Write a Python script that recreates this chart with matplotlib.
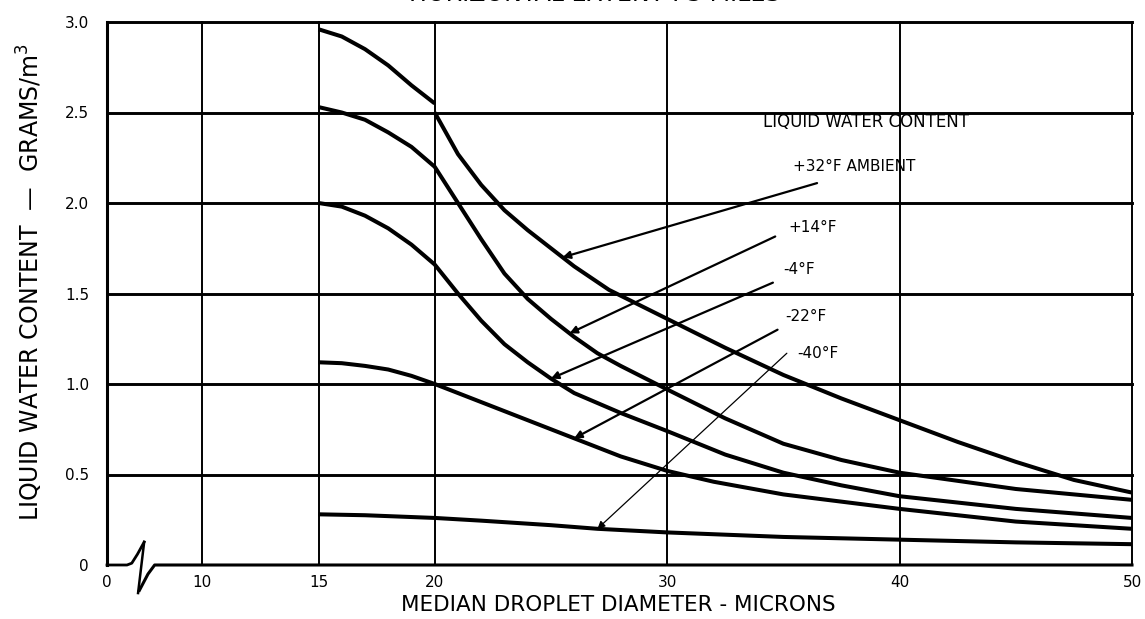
import numpy as np
import matplotlib
matplotlib.use("Agg")
import matplotlib.pyplot as plt

# liquid water content (g/m^3) vs median droplet diameter (microns)
# +32F ambient: short envelope 15-20, then the main branch from 20 on
x_32a = [15, 16, 17, 18, 19, 20]
y_32a = [2.96, 2.92, 2.85, 2.76, 2.65, 2.55]
x_32 = [20, 21, 22, 23, 24, 25, 26, 27.5, 30, 32.5, 35, 37.5, 40, 42.5, 45, 47.5, 50]
y_32 = [2.5, 2.27, 2.1, 1.96, 1.85, 1.75, 1.65, 1.52, 1.36, 1.2, 1.05, 0.92, 0.8, 0.68, 0.57, 0.47, 0.4]

x_14 = [15, 16, 17, 18, 19, 20, 21, 22, 23, 24, 25, 26, 27, 28, 30, 32.5, 35, 37.5, 40, 45, 50]
y_14 = [2.53, 2.5, 2.46, 2.39, 2.31, 2.2, 2.0, 1.8, 1.61, 1.47, 1.36, 1.26, 1.17, 1.1, 0.97, 0.81, 0.67, 0.58, 0.51, 0.42, 0.36]

x_m4 = [15, 16, 17, 18, 19, 20, 21, 22, 23, 24, 25, 26, 28, 30, 32.5, 35, 37.5, 40, 45, 50]
y_m4 = [2.0, 1.98, 1.93, 1.86, 1.77, 1.66, 1.5, 1.35, 1.22, 1.12, 1.03, 0.95, 0.84, 0.74, 0.61, 0.51, 0.44, 0.38, 0.31, 0.26]

x_m22 = [15, 16, 17, 18, 19, 20, 22, 24, 26, 28, 30, 32, 35, 40, 45, 50]
y_m22 = [1.12, 1.115, 1.1, 1.08, 1.045, 1.0, 0.9, 0.8, 0.7, 0.6, 0.52, 0.46, 0.39, 0.31, 0.24, 0.2]

x_m40 = [15, 17, 20, 22, 25, 27, 30, 35, 40, 45, 50]
y_m40 = [0.28, 0.275, 0.26, 0.245, 0.22, 0.2, 0.18, 0.155, 0.14, 0.125, 0.115]

xticks = [0, 10, 15, 20, 30, 40, 50]
yticks = [0, 0.5, 1.0, 1.5, 2.0, 2.5, 3.0]
ytick_labels = ["0", "0.5", "1.0", "1.5", "2.0", "2.5", "3.0"]

# label text, text position, arrow start, x where arrow hits its curve
labels = [
    ("+32°F AMBIENT", (35.4, 2.20), (36.45, 2.11), 25.5, x_32, y_32),
    ("+14°F", (35.2, 1.865), (34.65, 1.815), 25.8, x_14, y_14),
    ("-4°F", (35.0, 1.633), (34.55, 1.56), 25.0, x_m4, y_m4),
    ("-22°F", (35.1, 1.372), (34.75, 1.30), 26.0, x_m22, y_m22),
    ("-40°F", (35.6, 1.168), (35.15, 1.17), 27.0, x_m40, y_m40),
]

# the 0-10 stretch is squeezed behind an axis break
BRK = 10.0
SQ = 0.41


def fwd(x):
    x = np.asarray(x, dtype=float)
    return np.where(x < BRK, x * SQ, x - BRK + BRK * SQ)


def inv(t):
    t = np.asarray(t, dtype=float)
    return np.where(t < BRK * SQ, t / SQ, t + BRK - BRK * SQ)


plt.rcParams['font.family'] = ['DejaVu Sans']

fig = plt.figure(figsize=(11.45, 6.19), dpi=100)
ax = fig.add_axes([107 / 1145, 1 - 565 / 619, 1025 / 1145, 543 / 619])
ax.set_xscale('function', functions=(fwd, inv))
ax.set_xlim(0, 50)
ax.set_ylim(0, 3.0)

for s in ax.spines.values():
    s.set_visible(False)
ax.spines['left'].set_visible(True)
ax.spines['left'].set_linewidth(2.2)

# grid
for yv in yticks[1:]:
    ax.plot([0, 50], [yv, yv], color='black', lw=2.1, clip_on=False, zorder=2)
for xv in [10, 15, 20, 30, 40, 50]:
    ax.plot([xv, xv], [0, 3.0], color='black', lw=1.4, clip_on=False, zorder=2)

# bottom axis with break mark
ax.plot([0, 2.1, 2.6, 3.2, 3.9], [0, 0, 0.01, 0.06, 0.127], color='black', lw=2.0, clip_on=False)
ax.plot([3.9, 3.26], [0.127, -0.155], color='black', lw=1.8, clip_on=False)
ax.plot([3.4, 4.3, 5.0, 50], [-0.14, -0.05, 0.0, 0.0], color='black', lw=2.2, clip_on=False)

# curves
kw = dict(color='black', lw=2.9, solid_capstyle='butt', zorder=3)
ax.plot(x_32a, y_32a, **kw)
ax.plot(x_32, y_32, **kw)
ax.plot(x_14, y_14, **kw)
ax.plot(x_m4, y_m4, **kw)
ax.plot(x_m22, y_m22, **kw)
ax.plot(x_m40, y_m40, **kw)

ax.text(38.55, 2.45, "LIQUID WATER CONTENT", ha='center', va='center', fontsize=12)
for i, (txt, tpos, start, xhit, xs, ys) in enumerate(labels):
    ax.text(tpos[0], tpos[1], txt, ha='left', va='center', fontsize=11)
    tip = (xhit, float(np.interp(xhit, xs, ys)))
    lw = 0.9 if i == 4 else 1.6
    ax.annotate("", xy=tip, xytext=start,
                arrowprops=dict(arrowstyle='-|>', color='black', lw=lw,
                                mutation_scale=11, shrinkA=0, shrinkB=0))

ax.set_xticks(xticks)
ax.set_xticklabels([str(v) for v in xticks], fontsize=11)
ax.set_yticks(yticks)
ax.set_yticklabels(ytick_labels, fontsize=11)
ax.tick_params(length=0)
ax.tick_params(axis='y', pad=13)
ax.tick_params(axis='x', pad=7)

fig.text(618 / 1145, 1 - 605 / 619, "MEDIAN DROPLET DIAMETER - MICRONS",
         ha='center', va='center', fontsize=15.5)
fig.text(30 / 1145, 1 - 282 / 619, "LIQUID WATER CONTENT  —  GRAMS/m$^3$",
         ha='center', va='center', rotation=90, fontsize=17)
# heading sits mostly above the top edge
fig.text(595 / 1145, 1 - 1 / 619, "HORIZONTAL EXTENT : 3 MILES",
         ha='center', va='baseline', fontsize=17)

fig.savefig("out.png", dpi=100)
